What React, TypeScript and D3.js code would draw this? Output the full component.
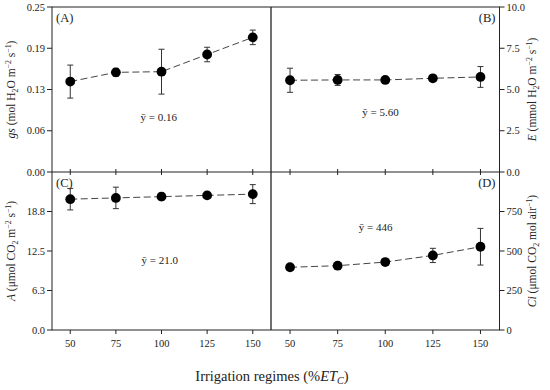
import React from "react";
import * as d3 from "d3";

const xVals = [50, 75, 100, 125, 150];
const xTickLabels = ["50", "75", "100", "125", "150"];

const gsMean = [0.137, 0.151, 0.152, 0.178, 0.204];
const gsErr = [0.025, 0.006, 0.034, 0.011, 0.011];
const gsTicks = [0, 0.0625, 0.125, 0.1875, 0.25];
const gsTickLabels = ["0.00", "0.06", "0.13", "0.19", "0.25"];

const eMean = [5.56, 5.58, 5.58, 5.68, 5.76];
const eErr = [0.73, 0.33, 0.16, 0.1, 0.63];
const eTicks = [0, 2.5, 5, 7.5, 10];
const eTickLabels = ["0.0", "2.5", "5.0", "7.5", "10.0"];

const aMean = [20.7, 20.9, 21.1, 21.3, 21.5];
const aErr = [1.7, 1.7, 0.55, 0.5, 1.5];
const aTicks = [0, 6.25, 12.5, 18.75];
const aTickLabels = ["0.0", "6.3", "12.5", "18.8"];

const ciMean = [397, 407, 430, 472, 527];
const ciErr = [10, 9, 12, 45, 116];
const ciTicks = [0, 250, 500, 750];
const ciTickLabels = ["0", "250", "500", "750"];

type Part = { t: string; i?: boolean; sub?: boolean; sup?: boolean };

const gsLabel: Part[] = [
  { t: "gs", i: true }, { t: " (mol H" }, { t: "2", sub: true }, { t: "O m" },
  { t: "−2", sup: true }, { t: " s" }, { t: "−1", sup: true }, { t: ")" },
];
const eLabel: Part[] = [
  { t: "E", i: true }, { t: " (mmol H" }, { t: "2", sub: true }, { t: "O m" },
  { t: "−2", sup: true }, { t: " s" }, { t: "−1", sup: true }, { t: ")" },
];
const aLabel: Part[] = [
  { t: "A", i: true }, { t: " (μmol CO" }, { t: "2", sub: true }, { t: " m" },
  { t: "−2", sup: true }, { t: " s" }, { t: "−1", sup: true }, { t: ")" },
];
const ciLabel: Part[] = [
  { t: "Ci", i: true }, { t: " (μmol CO" }, { t: "2", sub: true }, { t: " mol air" },
  { t: "−1", sup: true }, { t: ")" },
];

const FONT = "'Liberation Serif', 'DejaVu Serif', serif";
const INK = "#222";

function rich(parts: Part[], size: number) {
  const out: React.ReactNode[] = [];
  let shift = 0;
  parts.forEach((p, k) => {
    let target = 0;
    if (p.sub) target = size * 0.3;
    if (p.sup) target = -size * 0.38;
    const dy = target - shift;
    shift = target;
    out.push(
      <tspan
        key={k}
        dy={dy}
        fontStyle={p.i ? "italic" : "normal"}
        fontSize={p.sub || p.sup ? size * 0.68 : size}
      >
        {p.t}
      </tspan>
    );
  });
  return out;
}

const L = 52, M = 271, R = 499.5;
const T = 7, MID = 172, B = 330;

type PanelDef = {
  x0: number; x1: number; y0: number; y1: number;
  mean: number[]; err: number[]; yMax: number;
  ticks: number[]; tickLabels: string[];
  side: "left" | "right"; bottom: boolean;
  label: Part[]; letter: string; meanText: string; meanX: number; meanY: number;
};

const panels: PanelDef[] = [
  { x0: L, x1: M, y0: T, y1: MID, mean: gsMean, err: gsErr, yMax: 0.25, ticks: gsTicks, tickLabels: gsTickLabels,
    side: "left", bottom: false, label: gsLabel, letter: "(A)", meanText: "ȳ = 0.16", meanX: 98.5, meanY: 0.083 },
  { x0: M, x1: R, y0: T, y1: MID, mean: eMean, err: eErr, yMax: 10, ticks: eTicks, tickLabels: eTickLabels,
    side: "right", bottom: false, label: eLabel, letter: "(B)", meanText: "ȳ = 5.60", meanX: 97.5, meanY: 3.63 },
  { x0: L, x1: M, y0: MID, y1: B, mean: aMean, err: aErr, yMax: 25, ticks: aTicks, tickLabels: aTickLabels,
    side: "left", bottom: true, label: aLabel, letter: "(C)", meanText: "ȳ = 21.0", meanX: 99, meanY: 11.1 },
  { x0: M, x1: R, y0: MID, y1: B, mean: ciMean, err: ciErr, yMax: 1000, ticks: ciTicks, tickLabels: ciTickLabels,
    side: "right", bottom: true, label: ciLabel, letter: "(D)", meanText: "ȳ = 446", meanX: 95, meanY: 654 },
];

function Panel({ p }: { p: PanelDef }) {
  const x = d3.scaleLinear().domain([40, 160]).range([p.x0, p.x1]);
  const y = d3.scaleLinear().domain([0, p.yMax]).range([p.y1, p.y0]);
  const line = d3.line<number>().x((_, i) => x(xVals[i])).y((v) => y(v));
  const axX = p.side === "left" ? p.x0 : p.x1;
  const dir = p.side === "left" ? -1 : 1;
  const yc = (p.y0 + p.y1) / 2;
  const labX = p.side === "left" ? 15 : 536;
  return (
    <g>
      {p.ticks.map((t, i) => (
        <g key={i}>
          <line x1={axX} x2={axX + dir * 5} y1={y(t)} y2={y(t)} stroke={INK} strokeWidth={1} />
          <text
            x={axX + dir * 7}
            y={y(t)}
            dy="0.35em"
            textAnchor={p.side === "left" ? "end" : "start"}
            fontSize={10.5}
            fontFamily={FONT}
            fill={INK}
          >
            {p.tickLabels[i]}
          </text>
        </g>
      ))}
      {xVals.map((v, i) => (
        <g key={i}>
          {p.bottom ? (
            <>
              <line x1={x(v)} x2={x(v)} y1={p.y1} y2={p.y1 + 4} stroke={INK} strokeWidth={1} />
              <text x={x(v)} y={p.y1 + 17} textAnchor="middle" fontSize={10.5} fontFamily={FONT} fill={INK}>
                {xTickLabels[i]}
              </text>
            </>
          ) : (
            <line x1={x(v)} x2={x(v)} y1={p.y1 - 3} y2={p.y1 + 3} stroke={INK} strokeWidth={1} />
          )}
        </g>
      ))}
      <text
        transform={`translate(${labX},${yc}) rotate(-90)`}
        textAnchor="middle"
        fontSize={11.5}
        fontFamily={FONT}
        fill={INK}
      >
        {rich(p.label, 11.5)}
      </text>
      <text
        x={p.side === "left" ? p.x0 + 4 : p.x1 - 4}
        y={p.y0 + 15}
        textAnchor={p.side === "left" ? "start" : "end"}
        fontSize={12.5}
        fontFamily={FONT}
        fill={INK}
      >
        {p.letter}
      </text>
      <text x={x(p.meanX)} y={y(p.meanY)} dy="0.35em" textAnchor="middle" fontSize={11} fontFamily={FONT} fill={INK}>
        {p.meanText}
      </text>
      <path d={line(p.mean) || ""} fill="none" stroke="#444" strokeWidth={1} strokeDasharray="7,3.5" />
      {p.mean.map((m, i) => {
        const cx = x(xVals[i]);
        return (
          <g key={i} stroke="#333" strokeWidth={1}>
            <line x1={cx} x2={cx} y1={y(m - p.err[i])} y2={y(m + p.err[i])} />
            <line x1={cx - 3} x2={cx + 3} y1={y(m - p.err[i])} y2={y(m - p.err[i])} />
            <line x1={cx - 3} x2={cx + 3} y1={y(m + p.err[i])} y2={y(m + p.err[i])} />
          </g>
        );
      })}
      {p.mean.map((m, i) => (
        <circle key={i} cx={x(xVals[i])} cy={y(m)} r={4.9} fill="#000" />
      ))}
    </g>
  );
}

export default function App() {
  return (
    <svg
      width={550}
      height={390}
      style={{ position: "absolute", left: 0, top: 0, background: "#fff" }}
    >
      <rect x={0} y={0} width={550} height={390} fill="#fff" />
      {panels.map((p, i) => (
        <Panel key={i} p={p} />
      ))}
      <g stroke={INK} strokeWidth={1} fill="none">
        <rect x={L} y={T} width={R - L} height={B - T} />
        <line x1={M} x2={M} y1={T} y2={B} strokeWidth={1.3} />
        <line x1={L} x2={R} y1={MID} y2={MID} />
      </g>
      <text x={272} y={381} textAnchor="middle" fontSize={14.5} fontFamily={FONT} fill={INK}>
        Irrigation regimes (%<tspan fontStyle="italic">ET</tspan>
        <tspan fontStyle="italic" fontSize={10} dy={3}>C</tspan>
        <tspan dy={-3}>)</tspan>
      </text>
    </svg>
  );
}
